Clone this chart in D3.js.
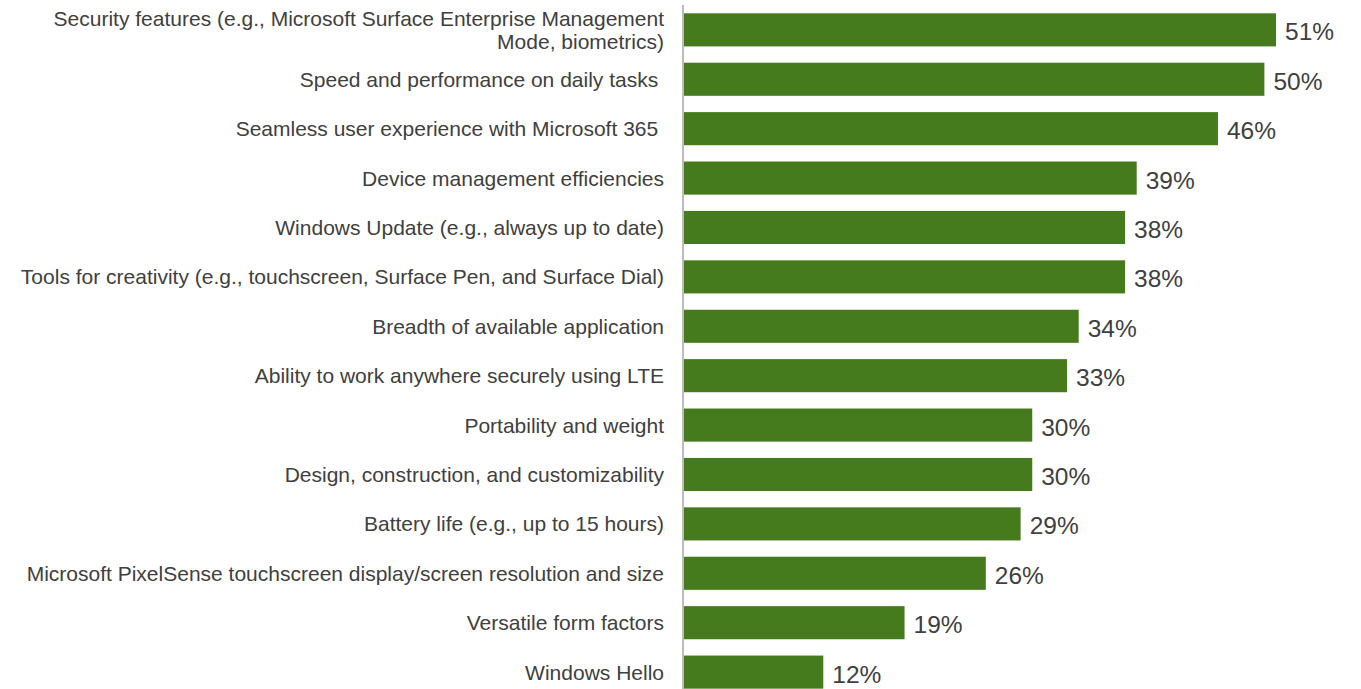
<!DOCTYPE html>
<html>
<head>
<meta charset="utf-8">
<script src="https://cdn.jsdelivr.net/npm/d3@7"></script>
<style>
  html, body { margin: 0; padding: 0; background: #ffffff; }
  svg { display: block; }
  text { font-family: "Liberation Sans", Arial, sans-serif; }
</style>
</head>
<body>
<svg id="chart" width="1361" height="689"></svg>
<script>
// ---- data ----
const categories = [
  "Security features (e.g., Microsoft Surface Enterprise Management\nMode, biometrics)",
  "Speed and performance on daily tasks ",
  "Seamless user experience with Microsoft 365 ",
  "Device management efficiencies",
  "Windows Update (e.g., always up to date)",
  "Tools for creativity (e.g., touchscreen, Surface Pen, and Surface Dial)",
  "Breadth of available application",
  "Ability to work anywhere securely using LTE",
  "Portability and weight",
  "Design, construction, and customizability",
  "Battery life (e.g., up to 15 hours)",
  "Microsoft PixelSense touchscreen display/screen resolution and size",
  "Versatile form factors",
  "Windows Hello"
];
const values = [51, 50, 46, 39, 38, 38, 34, 33, 30, 30, 29, 26, 19, 12];
const valueLabels = values.map(v => v + "%");

// ---- layout ----
const svg = d3.select("#chart");
const axisX = 684;
const x = d3.scaleLinear().domain([0, 51]).range([axisX, 1276]);
const y = d3.scaleBand()
  .domain(d3.range(categories.length))
  .range([5.15, 696.8])
  .paddingInner(0.33)
  .paddingOuter(0.165);

const barColor = "#467b1d";
const textColor = "#404040";

// bars
svg.append("g").selectAll("rect")
  .data(values)
  .join("rect")
  .attr("x", x(0))
  .attr("y", (d, i) => y(i))
  .attr("width", d => x(d) - x(0))
  .attr("height", y.bandwidth())
  .attr("fill", barColor);

// axis line
svg.append("line")
  .attr("x1", axisX - 1).attr("x2", axisX - 1)
  .attr("y1", 5).attr("y2", 689)
  .attr("stroke", "#a6a6a6")
  .attr("stroke-width", 1.5);

// category labels
const lbl = svg.append("g").selectAll("text")
  .data(categories)
  .join("text")
  .attr("text-anchor", "end")
  .attr("fill", textColor)
  .attr("font-size", 21)
  .style("white-space", "pre")
  .attr("x", 664)
  .attr("y", (d, i) => y(i) + y.bandwidth() / 2);

lbl.each(function(d) {
  const lines = d.split("\n");
  const t = d3.select(this);
  const lh = 23;
  const off = -(lines.length - 1) * lh / 2;
  lines.forEach((ln, k) => {
    t.append("tspan")
      .attr("x", 664)
      .attr("dy", k === 0 ? off : lh)
      .attr("dominant-baseline", "central")
      .text(ln);
  });
});

// value labels
svg.append("g").selectAll("text")
  .data(values)
  .join("text")
  .attr("x", d => x(d) + 9)
  .attr("y", (d, i) => y(i) + y.bandwidth() / 2 + 2)
  .attr("dominant-baseline", "central")
  .attr("fill", textColor)
  .attr("font-size", 24.5)
  .text((d, i) => valueLabels[i]);
</script>
</body>
</html>
